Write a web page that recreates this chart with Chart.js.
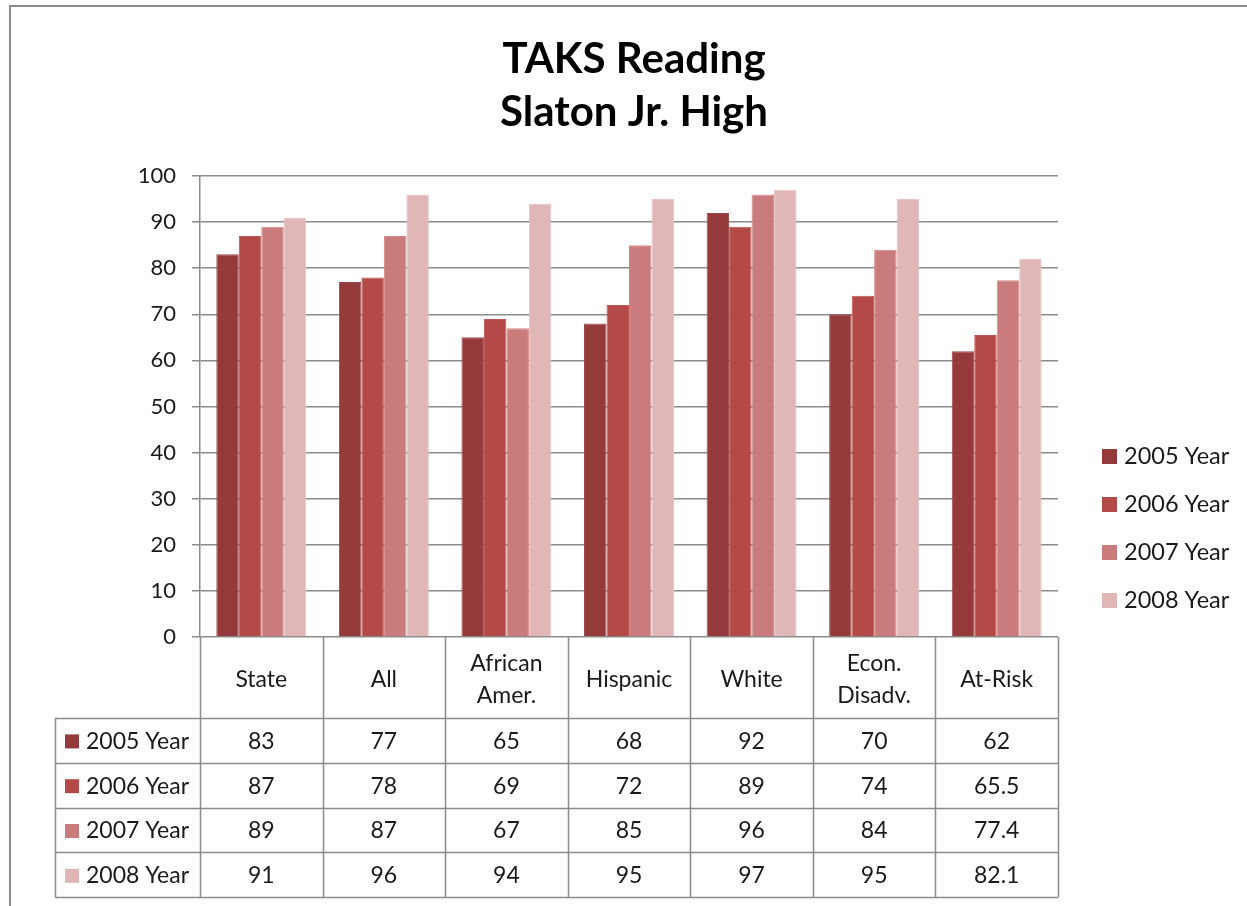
<!DOCTYPE html>
<html>
<head>
<meta charset="utf-8">
<title>TAKS Reading - Slaton Jr. High</title>
<script src="https://cdn.jsdelivr.net/npm/chart.js@4.4.1/dist/chart.umd.min.js"></script>
<style>
  html, body { margin: 0; padding: 0; background: #fff; }
  #wrap { position: relative; width: 1247px; height: 906px; }
</style>
</head>
<body>
<div id="wrap"><canvas id="chart" width="1247" height="906"></canvas></div>
<script>
// ---------- data ----------
const categories = [['State'], ['All'], ['African', 'Amer.'], ['Hispanic'], ['White'], ['Econ.', 'Disadv.'], ['At-Risk']];
const seriesNames = ['2005 Year', '2006 Year', '2007 Year', '2008 Year'];
const values2005 = [83, 77, 65, 68, 92, 70, 62];
const values2006 = [87, 78, 69, 72, 89, 74, 65.5];
const values2007 = [89, 87, 67, 85, 96, 84, 77.4];
const values2008 = [91, 96, 94, 95, 97, 95, 82.1];
const yTicks = [0, 10, 20, 30, 40, 50, 60, 70, 80, 90, 100];
const titleLines = ['TAKS Reading', 'Slaton Jr. High'];

const seriesValues = [values2005, values2006, values2007, values2008];
const seriesColors = ['#953a3a', '#b34a48', '#ca7c7c', '#e0b6b7'];
const seriesEdges = ['#a04545', '#bd5553', '#d28787', '#e8c3c4'];

const FONT = 'Lato, "Open Sans", sans-serif';
const LINE = '#8c8c8c';
const TEXT = '#1a1a1a';

// ---------- 표 / 범례 / 제목 그리기 ----------
const extrasPlugin = {
  id: 'extras',
  afterDraw(chart) {
    const ctx = chart.ctx;
    const area = chart.chartArea;
    const n = categories.length;
    const colW = (area.right - area.left) / n;
    const headerBottom = area.bottom + 81;
    const rowH = 44.8;
    const tableBottom = headerBottom + rowH * seriesNames.length;
    const labelLeft = 55;

    ctx.save();

    // outer frame
    ctx.strokeStyle = '#8a8a8a';
    ctx.lineWidth = 2;
    ctx.strokeRect(10, 6, 1260, 920);

    // title
    ctx.fillStyle = '#000';
    ctx.font = 'bold 42px ' + FONT;
    ctx.textAlign = 'center';
    ctx.textBaseline = 'middle';
    titleLines.forEach((t, i) => ctx.fillText(t, 634, 59 + i * 53));

    // table lines
    ctx.strokeStyle = LINE;
    ctx.lineWidth = 1.5;
    ctx.beginPath();
    for (let i = 0; i <= n; i++) {
      const x = Math.round(area.left + i * colW) + 0.5;
      ctx.moveTo(x, area.bottom);
      ctx.lineTo(x, tableBottom);
    }
    for (let r = 0; r <= seriesNames.length; r++) {
      const y = Math.round(headerBottom + r * rowH) + 0.5;
      ctx.moveTo(labelLeft, y);
      ctx.lineTo(area.right, y);
    }
    ctx.moveTo(labelLeft + 0.5, headerBottom);
    ctx.lineTo(labelLeft + 0.5, tableBottom);
    ctx.stroke();

    // header labels
    ctx.fillStyle = TEXT;
    ctx.font = '23px ' + FONT;
    ctx.textAlign = 'center';
    const xScale = chart.scales.x;
    const headerMid = (area.bottom + headerBottom) / 2 + 2;
    categories.forEach((lines, i) => {
      const cx = xScale.getPixelForValue(i);
      const start = headerMid - (lines.length - 1) * 16;
      lines.forEach((t, j) => ctx.fillText(t, cx, start + j * 32));
    });

    // data rows
    seriesNames.forEach((name, r) => {
      const cy = headerBottom + r * rowH + rowH / 2 + 1;
      ctx.fillStyle = seriesColors[r];
      ctx.fillRect(65, cy - 7, 14, 14);
      ctx.fillStyle = TEXT;
      ctx.textAlign = 'left';
      ctx.fillText(name, 86, cy);
      ctx.textAlign = 'center';
      seriesValues[r].forEach((v, i) => ctx.fillText(String(v), xScale.getPixelForValue(i), cy));
    });

    // legend
    ctx.font = '23.5px ' + FONT;
    ctx.textAlign = 'left';
    seriesNames.forEach((name, r) => {
      const cy = 456 + r * 48;
      ctx.fillStyle = seriesColors[r];
      ctx.fillRect(1102, cy - 7, 15, 15);
      ctx.fillStyle = TEXT;
      ctx.fillText(name, 1124, cy);
    });

    ctx.restore();
  },
};

new Chart(document.getElementById('chart'), {
  type: 'bar',
  data: {
    labels: categories,
    datasets: seriesNames.map((name, i) => ({
      label: name,
      data: seriesValues[i],
      backgroundColor: seriesColors[i],
      borderColor: seriesEdges[i],
      borderWidth: 1,
      categoryPercentage: 0.734,
      barPercentage: 1.0,
    })),
  },
  options: {
    responsive: false,
    animation: false,
    layout: { padding: { left: 10, top: 176, right: 189, bottom: 269 } },
    plugins: {
      legend: { display: false },
      title: { display: false },
      tooltip: { enabled: false },
    },
    scales: {
      x: { display: false },
      y: {
        min: 0,
        max: 100,
        afterFit: (scale) => { scale.width = 190; },
        afterBuildTicks: (scale) => { scale.ticks = yTicks.map((v) => ({ value: v })); },
        ticks: { color: TEXT, font: { family: FONT, size: 22 }, padding: 16 },
        grid: { color: LINE, lineWidth: 1.5, tickLength: 8 },
        border: { color: LINE, width: 1.5 },
      },
    },
  },
  plugins: [extrasPlugin],
});
</script>
</body>
</html>
